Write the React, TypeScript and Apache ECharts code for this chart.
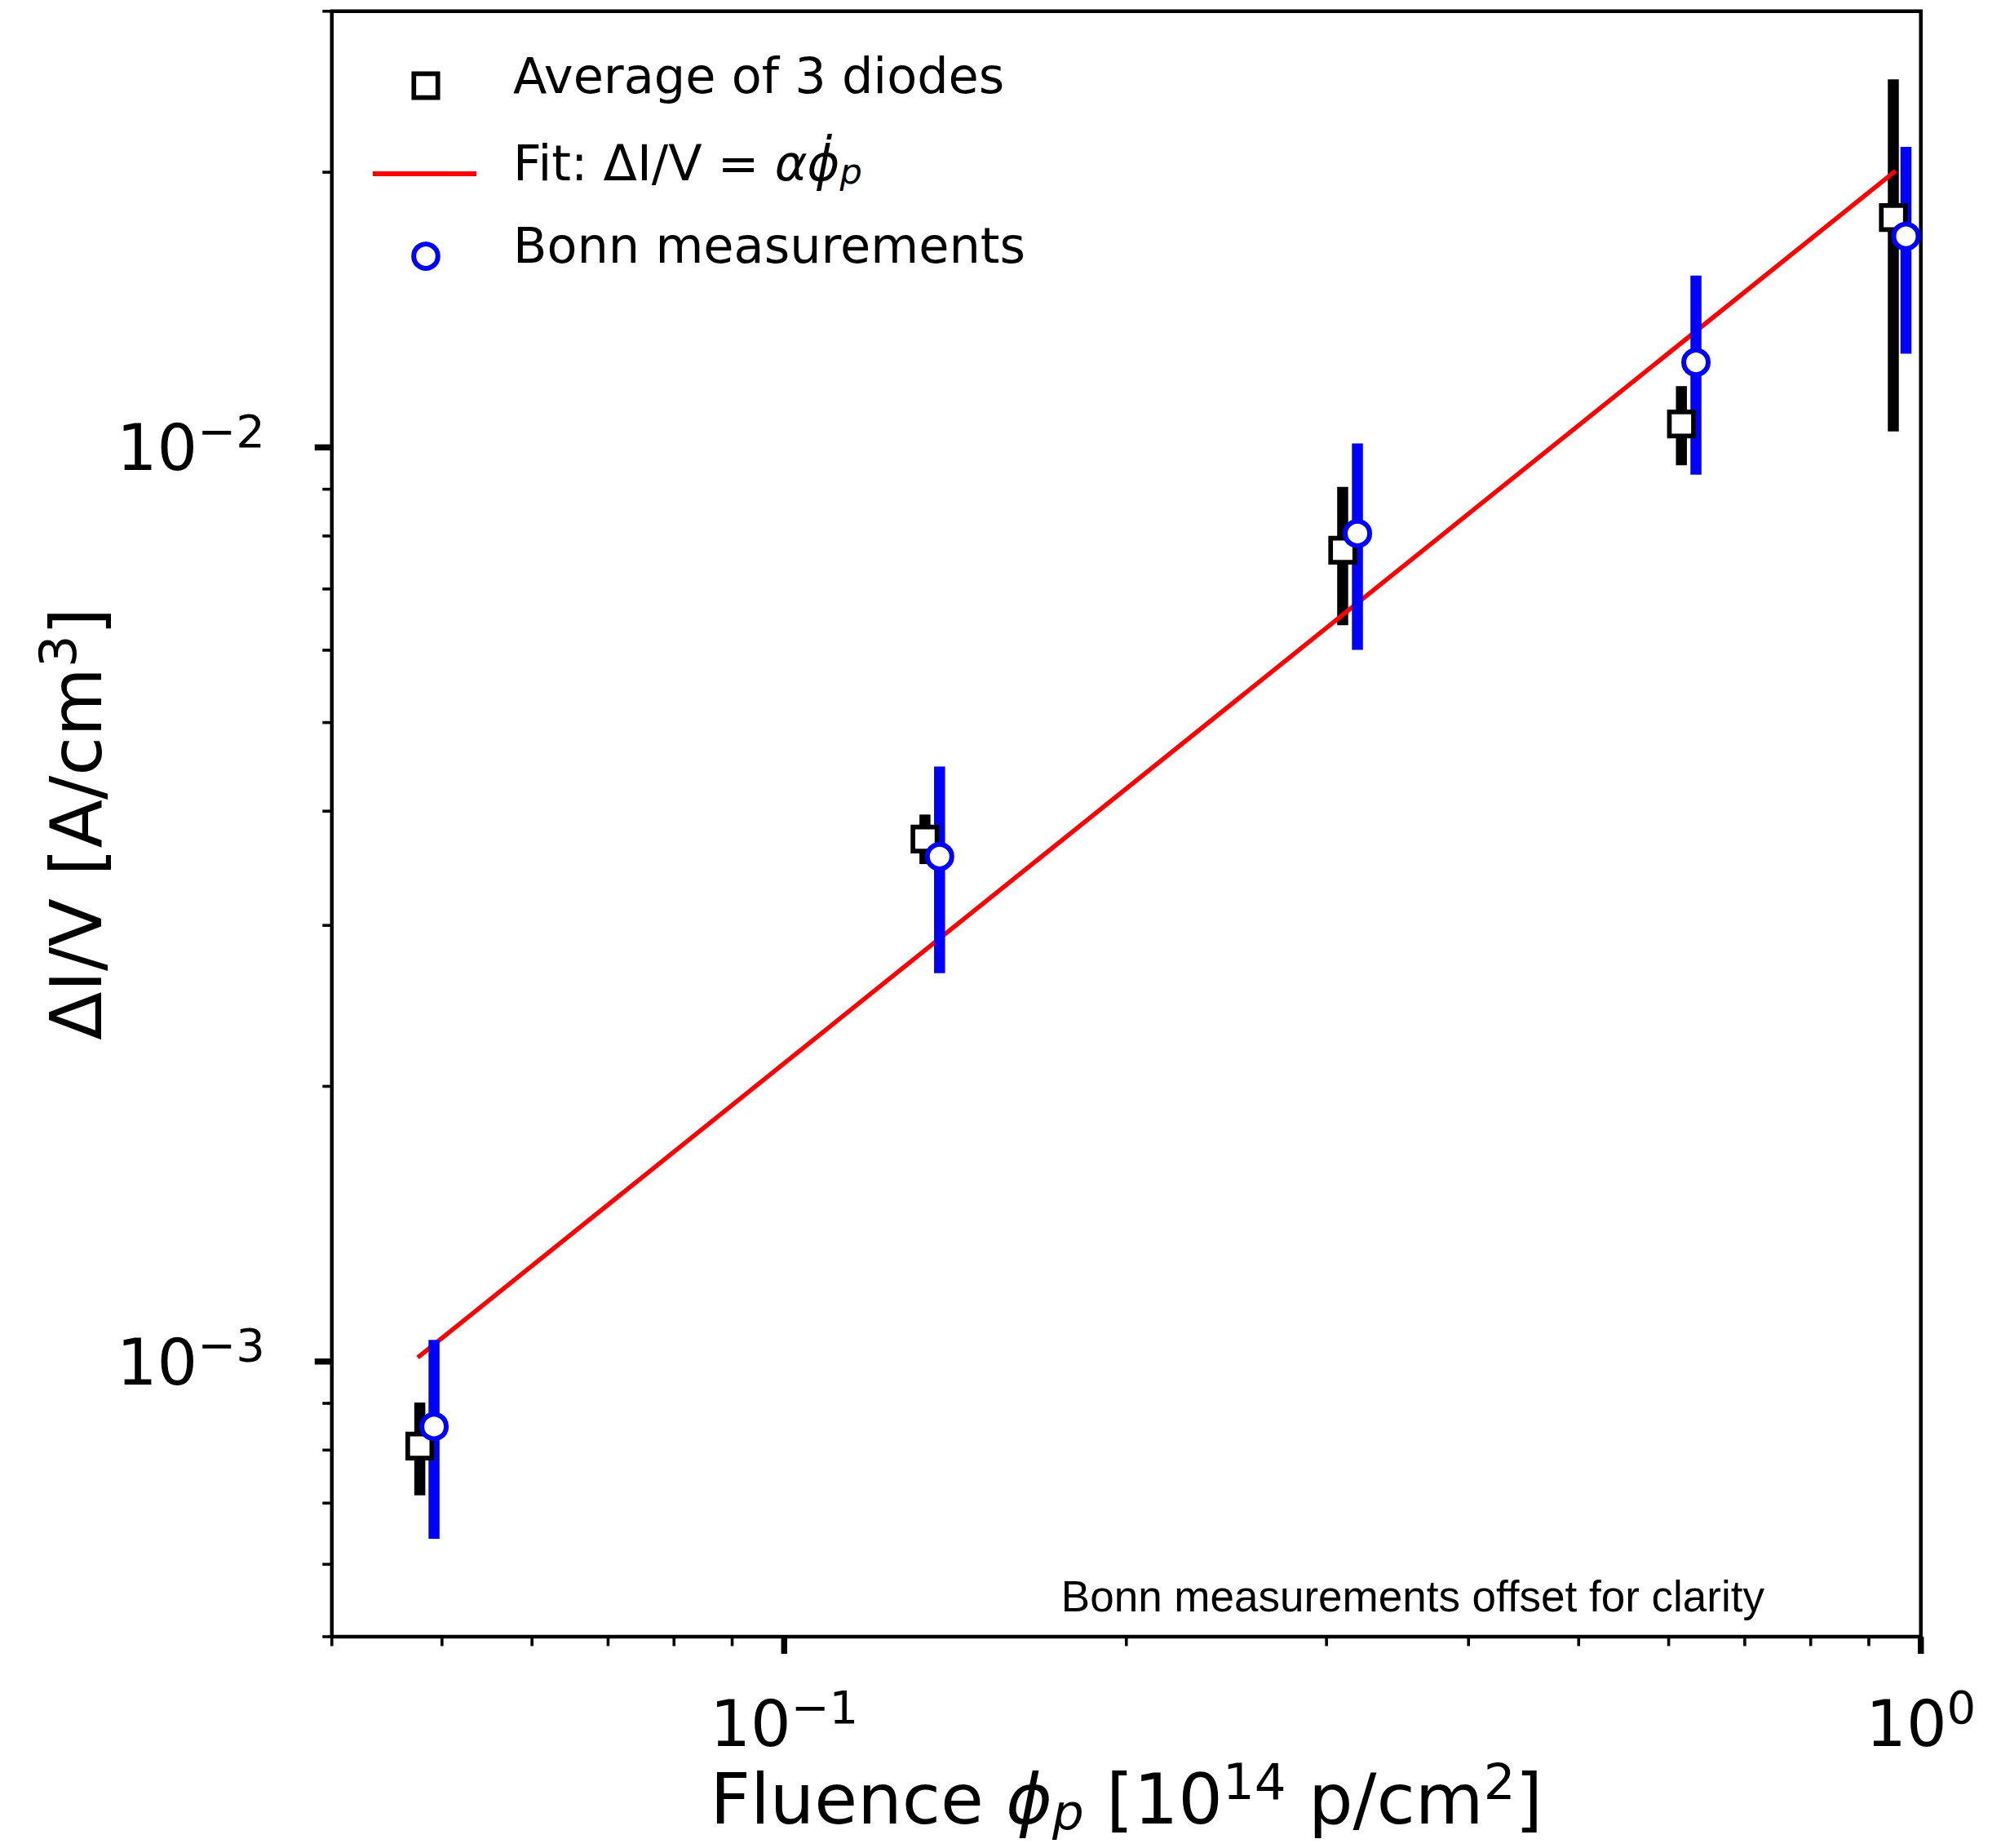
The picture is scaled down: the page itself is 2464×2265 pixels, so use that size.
import React, { useEffect, useRef } from 'react';
import * as echarts from 'echarts';

// ---------- axis ranges ----------
const X_MIN = 0.04;
const X_MAX = 1;
const Y_MIN = 0.0005;
const Y_MAX = 0.03;

// ---------- data ----------
const diodeFluence = [0.0478, 0.1330, 0.3100, 0.6157, 0.9458];
const diodeCurrent = [0.000808, 0.003729, 0.007717, 0.01061, 0.01784];
const diodeLow = [0.000714, 0.003501, 0.006391, 0.009561, 0.01041];
const diodeHigh = [0.000902, 0.003966, 0.009054, 0.01167, 0.02527];

const bonnFluence = [0.0492, 0.1370, 0.3194, 0.6341, 0.9703];
const bonnCurrent = [0.000849, 0.003568, 0.008050, 0.01239, 0.01702];
const bonnLow = [0.000640, 0.002660, 0.006005, 0.009338, 0.01266];
const bonnHigh = [0.001056, 0.004475, 0.01010, 0.01542, 0.02132];

const fitFluence = [0.0476, 0.9502];
const fitCurrent = [0.001010, 0.02007];

// ---------- ticks ----------
const xMajorTicks = [0.1, 1];
const xMajorExp = ['−1', '0'];
const xMinorTicks = [0.04, 0.05, 0.06, 0.07, 0.08, 0.09, 0.2, 0.3, 0.4, 0.5, 0.6, 0.7, 0.8, 0.9];
const yMajorTicks = [0.001, 0.01];
const yMajorExp = ['−3', '−2'];
const yMinorTicks = [0.0005, 0.0006, 0.0007, 0.0008, 0.0009, 0.002, 0.003, 0.004, 0.005, 0.006, 0.007, 0.008, 0.009, 0.02, 0.03];

// ---------- texts ----------
const legendLabels = ['Average of 3 diodes', 'Fit: ΔI/V = {it|αϕ̇}{sub|p}', 'Bonn measurements'];
const noteText = 'Bonn measurements offset for clarity';
const xTitle = 'Fluence {it|ϕ}{sub|p} [10{sup|14} p/cm{sup|2}]';
const yTitle = 'ΔI/V [A/cm{sup|3}]';

const FONT = 'DejaVu Sans';

function tickSeries(values: number[], axis: 'x' | 'y', len: number, width: number, exps?: string[]) {
  return {
    type: 'custom',
    coordinateSystem: 'cartesian2d',
    silent: true,
    clip: false,
    z: 10,
    data: values.map((v) => (axis === 'x' ? [v, Y_MIN] : [X_MIN, v])),
    encode: { x: 0, y: 1 },
    renderItem: (params: any, api: any) => {
      const p = api.coord([api.value(0), api.value(1)]);
      const children: any[] = [];
      if (axis === 'x') {
        children.push({
          type: 'line',
          shape: { x1: p[0], y1: p[1], x2: p[0], y2: p[1] + len },
          style: { stroke: '#000', lineWidth: width },
        });
      } else {
        children.push({
          type: 'line',
          shape: { x1: p[0], y1: p[1], x2: p[0] - len, y2: p[1] },
          style: { stroke: '#000', lineWidth: width },
        });
      }
      if (exps) {
        const style: any = {
          text: '10{sup|' + exps[params.dataIndex] + '}',
          fontSize: 78,
          fontFamily: FONT,
          fill: '#000',
          lineHeight: 100,
          rich: {
            sup: { fontSize: 56, fontFamily: FONT, fill: '#000', verticalAlign: 'top', lineHeight: 58, height: 58 },
          },
        };
        if (axis === 'x') {
          children.push({ type: 'text', x: p[0], y: p[1] + 57, style: { ...style, align: 'center', verticalAlign: 'top' } });
        } else {
          children.push({ type: 'text', x: p[0] - 82, y: p[1] + 1, style: { ...style, align: 'right', verticalAlign: 'middle' } });
        }
      }
      return { type: 'group', children };
    },
  };
}

function errSeries(xs: number[], lows: number[], highs: number[], color: string, z: number) {
  return {
    type: 'custom',
    coordinateSystem: 'cartesian2d',
    silent: true,
    clip: false,
    z,
    data: xs.map((x, i) => [x, lows[i], highs[i]]),
    encode: { x: 0, y: [1, 2] },
    renderItem: (params: any, api: any) => {
      const lo = api.coord([api.value(0), api.value(1)]);
      const hi = api.coord([api.value(0), api.value(2)]);
      const w = 13.5;
      return {
        type: 'rect',
        shape: { x: lo[0] - w / 2, y: hi[1], width: w, height: lo[1] - hi[1] },
        style: { fill: color },
      };
    },
  };
}

export default function App() {
  const ref = useRef<HTMLDivElement>(null);

  useEffect(() => {
    document.body.style.margin = '0';
    document.body.style.overflow = 'hidden';
    document.documentElement.style.overflow = 'hidden';

    const chart = echarts.init(ref.current!, null, { renderer: 'svg' });

    const LF = 60.5;
    const legendRich = {
      it: { fontStyle: 'italic', fontSize: LF, fontFamily: FONT, fill: '#000' },
      sub: { fontStyle: 'italic', fontSize: 43, fontFamily: FONT, fill: '#000', verticalAlign: 'bottom', lineHeight: 56, height: 56 },
    };

    const option: any = {
      animation: false,
      backgroundColor: '#fff',
      grid: {
        left: 406.8,
        top: 13.8,
        width: 1947.9,
        height: 2000,
        show: true,
        borderColor: '#000',
        borderWidth: 4.5,
        backgroundColor: 'transparent',
      },
      xAxis: {
        type: 'log',
        logBase: 10,
        min: X_MIN,
        max: X_MAX,
        axisLine: { show: false },
        axisTick: { show: false },
        axisLabel: { show: false },
        splitLine: { show: false },
        minorTick: { show: false },
        name: xTitle,
        nameLocation: 'middle',
        nameGap: 144,
        nameTextStyle: {
          fontFamily: FONT,
          fontSize: 86,
          color: '#000',
          lineHeight: 110,
          rich: {
            it: { fontStyle: 'italic', fontSize: 86, fontFamily: FONT, color: '#000', lineHeight: 110 },
            sub: { fontStyle: 'italic', fontSize: 61, fontFamily: FONT, color: '#000', verticalAlign: 'bottom', lineHeight: 80, height: 80 },
            sup: { fontSize: 61, fontFamily: FONT, color: '#000', verticalAlign: 'top', lineHeight: 66, height: 66 },
          },
        },
      },
      yAxis: {
        type: 'log',
        logBase: 10,
        min: Y_MIN,
        max: Y_MAX,
        axisLine: { show: false },
        axisTick: { show: false },
        axisLabel: { show: false },
        splitLine: { show: false },
        minorTick: { show: false },
        name: yTitle,
        nameLocation: 'middle',
        nameGap: 258,
        nameTextStyle: {
          fontFamily: FONT,
          fontSize: 87,
          color: '#000',
          lineHeight: 110,
          rich: {
            sup: { fontSize: 62, fontFamily: FONT, color: '#000', verticalAlign: 'top', lineHeight: 66, height: 66 },
          },
        },
      },
      graphic: [
        {
          type: 'rect',
          shape: { x: 522 - 14.7, y: 105 - 14.7, width: 29.4, height: 29.4 },
          style: { fill: '#fff', stroke: '#000', lineWidth: 5.7 },
          z: 20,
        },
        {
          type: 'line',
          shape: { x1: 457, y1: 213, x2: 584, y2: 213 },
          style: { stroke: '#ff0000', lineWidth: 6 },
          z: 20,
        },
        {
          type: 'circle',
          shape: { cx: 522, cy: 314, r: 14.8 },
          style: { fill: '#fff', stroke: '#0000ff', lineWidth: 6 },
          z: 20,
        },
        {
          type: 'text',
          x: 629,
          y: 93,
          style: { text: legendLabels[0], fontSize: LF, fontFamily: FONT, fill: '#000', align: 'left', verticalAlign: 'middle' },
          z: 20,
        },
        {
          type: 'text',
          x: 629,
          y: 200,
          style: {
            text: legendLabels[1],
            fontSize: LF,
            fontFamily: FONT,
            fill: '#000',
            align: 'left',
            verticalAlign: 'middle',
            lineHeight: 76,
            rich: legendRich,
          },
          z: 20,
        },
        {
          type: 'text',
          x: 629,
          y: 301,
          style: { text: legendLabels[2], fontSize: LF, fontFamily: FONT, fill: '#000', align: 'left', verticalAlign: 'middle' },
          z: 20,
        },
        {
          type: 'text',
          x: 2163,
          y: 1956,
          style: { text: noteText, fontSize: 53, fontFamily: 'Liberation Sans', fill: '#000', align: 'right', verticalAlign: 'middle' },
          z: 20,
        },
      ],
      series: [
        errSeries(diodeFluence, diodeLow, diodeHigh, '#000000', 2),
        {
          type: 'line',
          data: fitFluence.map((x, i) => [x, fitCurrent[i]]),
          showSymbol: false,
          symbol: 'none',
          silent: true,
          lineStyle: { color: '#ff0000', width: 5.5 },
          z: 3,
        },
        errSeries(bonnFluence, bonnLow, bonnHigh, '#0000ff', 4),
        {
          type: 'scatter',
          data: diodeFluence.map((x, i) => [x, diodeCurrent[i]]),
          symbol: 'rect',
          symbolSize: 29.5,
          silent: true,
          itemStyle: { color: '#ffffff', borderColor: '#000000', borderWidth: 5.7, opacity: 1 },
          z: 5,
        },
        {
          type: 'scatter',
          data: bonnFluence.map((x, i) => [x, bonnCurrent[i]]),
          symbol: 'circle',
          symbolSize: 30,
          silent: true,
          itemStyle: { color: '#ffffff', borderColor: '#0000ff', borderWidth: 6, opacity: 1 },
          z: 6,
        },
        tickSeries(xMajorTicks, 'x', 21, 7.5, xMajorExp),
        tickSeries(xMinorTicks, 'x', 11.5, 3.6),
        tickSeries(yMajorTicks, 'y', 21, 7.5, yMajorExp),
        tickSeries(yMinorTicks, 'y', 11.5, 3.6),
      ],
    };

    chart.setOption(option);
    return () => chart.dispose();
  }, []);

  return <div ref={ref} style={{ width: 2464, height: 2265, overflow: 'hidden' }} />;
}
